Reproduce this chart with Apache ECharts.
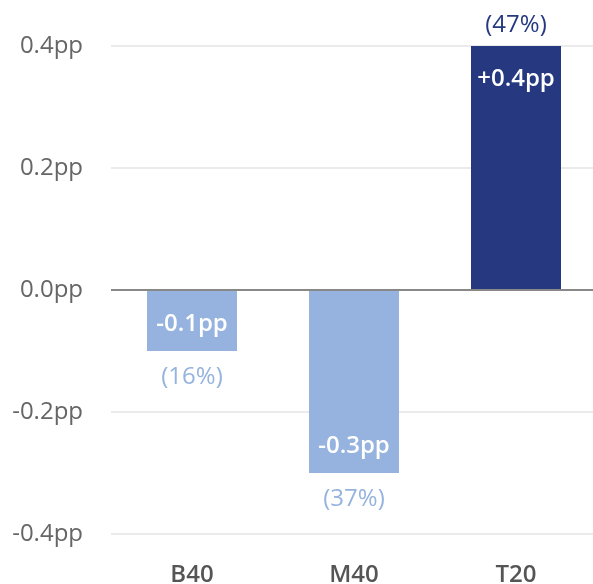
<!DOCTYPE html>
<html>
<head>
<meta charset="utf-8">
<script src="https://cdn.jsdelivr.net/npm/echarts@6/dist/echarts.min.js"></script>
<style>
  html, body { margin: 0; padding: 0; background: #fff; }
  #chart { width: 593px; height: 584px; }
</style>
</head>
<body>
<div id="chart"></div>
<script>
const categories = ['B40', 'M40', 'T20'];
const changes = [-0.1, -0.3, 0.4];
const shares = ['16%', '37%', '47%'];
const yTicks = { min: -0.4, max: 0.4, interval: 0.2 };

const lightBlue = '#95b3de';
const darkBlue = '#253880';
const font = '"Open Sans", "Noto Sans", sans-serif';

const fmtPP = (v) => (v > 0 ? '+' : '') + v.toFixed(1) + 'pp';

const chart = echarts.init(document.getElementById('chart'));

const mainData = changes.map((v) => ({
  value: v,
  itemStyle: { color: v > 0 ? darkBlue : lightBlue },
  label: v > 0
    ? { position: 'insideTop', distance: 21 }
    : { position: 'insideBottom', distance: 15 },
}));

const shareData = changes.map((v, i) => ({
  value: v,
  label: {
    position: v > 0 ? 'top' : 'bottom',
    distance: v > 0 ? 9 : 14,
    color: v > 0 ? darkBlue : lightBlue,
    formatter: '(' + shares[i] + ')',
  },
}));

chart.setOption({
  animation: false,
  grid: {
    left: 111, width: 486, top: 46, bottom: 50,
    containLabel: false, outerBoundsMode: 'none',
  },
  xAxis: {
    type: 'category',
    data: categories,
    axisLine: { show: false },
    axisTick: { show: false },
    axisLabel: {
      margin: 29,
      color: '#555',
      fontFamily: font,
      fontSize: 24,
      fontWeight: 600,
    },
  },
  yAxis: {
    type: 'value',
    min: yTicks.min,
    max: yTicks.max,
    interval: yTicks.interval,
    axisLine: { show: false },
    axisTick: { show: false },
    axisLabel: {
      margin: 28,
      color: '#666',
      fontFamily: font,
      fontSize: 24,
      formatter: (v) => v.toFixed(1) + 'pp',
    },
    splitLine: {
      lineStyle: { color: '#ebebeb', width: 2 },
    },
  },
  series: [
    {
      type: 'bar',
      data: mainData,
      barWidth: 90,
      label: {
        show: true,
        color: '#fff',
        fontFamily: font,
        fontSize: 24,
        fontWeight: 600,
        formatter: (p) => fmtPP(p.value),
      },
      markLine: {
        silent: true,
        symbol: 'none',
        label: { show: false },
        lineStyle: { color: '#888', width: 2, type: 'solid' },
        data: [{ yAxis: 0 }],
      },
      z: 3,
    },
    {
      type: 'bar',
      data: shareData,
      barWidth: 90,
      barGap: '-100%',
      itemStyle: { color: 'rgba(0,0,0,0)' },
      label: {
        show: true,
        fontFamily: font,
        fontSize: 24,
      },
      z: 2,
    },
  ],
});
</script>
</body>
</html>
